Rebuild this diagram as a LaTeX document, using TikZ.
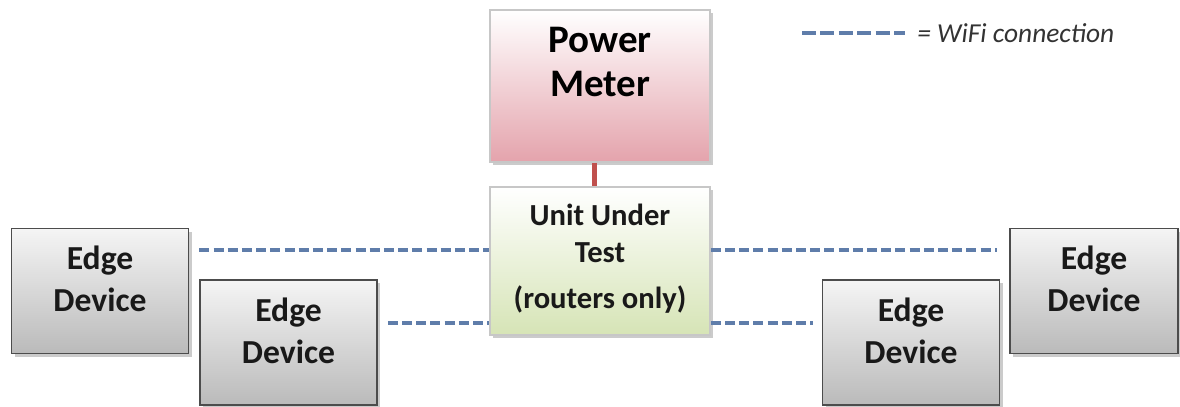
\documentclass[tikz,border=0pt]{standalone}
\usepackage{fontspec}
\setmainfont{Carlito}
\usetikzlibrary{shadows,calc}
\definecolor{wifiblue}{RGB}{95,125,170}
\definecolor{pmpink}{RGB}{228,163,172}
\definecolor{uutgreen}{RGB}{214,228,182}
\definecolor{pmred}{RGB}{192,80,77}
\begin{document}
\begin{tikzpicture}[x=0.5pt,y=-0.5pt,
  box/.style={rectangle, inner sep=0pt, line width=0.8pt,
    drop shadow={shadow xshift=1.5pt,shadow yshift=-1.5pt,fill=black!45,opacity=0.45}},
  edgebox/.style={box, draw=black!70, top color=black!4, bottom color=black!27,
    minimum width=88.5pt, minimum height=62.5pt},
  edgetext/.style={font=\fontsize{16.8}{21}\selectfont\bfseries, align=center, text=black!90},
  pmbox/.style={box, draw=black!22, top color=white, bottom color=pmpink,
    minimum width=110pt, minimum height=76pt},
  uutbox/.style={box, draw=black!22, top color=white, bottom color=uutgreen,
    minimum width=110pt, minimum height=74pt},
  pmtext/.style={font=\fontsize{19.5}{22}\selectfont\bfseries, align=center, text=black},
  uuttext/.style={font=\fontsize{15.3}{18.5}\selectfont\bfseries, align=center, text=black!90},
  wifi/.style={draw=wifiblue, line width=2pt, dash pattern=on 5pt off 2.1pt},
  legwifi/.style={draw=wifiblue, line width=2pt, dash pattern=on 7pt off 2.2pt},
  legtext/.style={font=\fontsize{13.7}{15}\selectfont\itshape, text=black!80, anchor=west, inner sep=0pt}
]
\useasboundingbox (0,0) rectangle (1180,407);

% boxes
\node[pmbox] (pm) at (600,86) {};
\node[uutbox] (uut) at (600,261) {};
\node[edgebox] (ed1) at (100,291) {};
\node[edgebox] (ed2) at (288.5,342.5) {};
\node[edgebox] (ed4) at (911,342.5) {};
\node[edgebox, minimum width=84pt] (ed3) at (1094,291) {};

% texts
\node[pmtext] (pmt) at ([yshift=12pt]pm.center) {Power\\Meter};
\node[uuttext] (uutt) at ([yshift=1pt]uut.center) {Unit Under\\Test\\[4.5pt](routers only)};
\node[edgetext] (ed1t) at ([yshift=6pt]ed1.center) {Edge\\Device};
\node[edgetext] (ed2t) at ([yshift=6pt]ed2.center) {Edge\\Device};
\node[edgetext] (ed3t) at ([yshift=6pt]ed3.center) {Edge\\Device};
\node[edgetext] (ed4t) at ([yshift=6pt]ed4.center) {Edge\\Device};

% power connector
\draw[pmred, line width=2.5pt] ([xshift=-3pt]pm.south) -- ([xshift=-3pt]pm.south |- uut.north);

% wifi connectors
\coordinate (ut) at ([yshift=5.5pt]uut.west);
\coordinate (ub) at ([yshift=-31pt]uut.west);
\coordinate (rt) at ([yshift=5.5pt]uut.east);
\coordinate (rb) at ([yshift=-31pt]uut.east);
\path (ut -| ed1.east) ++(5pt,0) coordinate (e1);
\path (ub -| ed2.east) ++(5pt,0) coordinate (e2);
\path (rt -| ed3.west) ++(-6pt,0) coordinate (e3);
\path (rb -| ed4.west) ++(-4.5pt,0) coordinate (e4);
\draw[wifi] (e1) -- (ut);
\draw[wifi] (e2) -- (ub);
\draw[wifi] (rt) -- (e3);
\draw[wifi] (rb) -- (e4);

% legend
\coordinate (lg1) at (802,33);
\coordinate (lg2) at (905,33);
\draw[legwifi] (lg1) -- (lg2);
\node[legtext] (lgt) at ([xshift=6pt]lg2) {= WiFi connection};
\end{tikzpicture}
\end{document}
